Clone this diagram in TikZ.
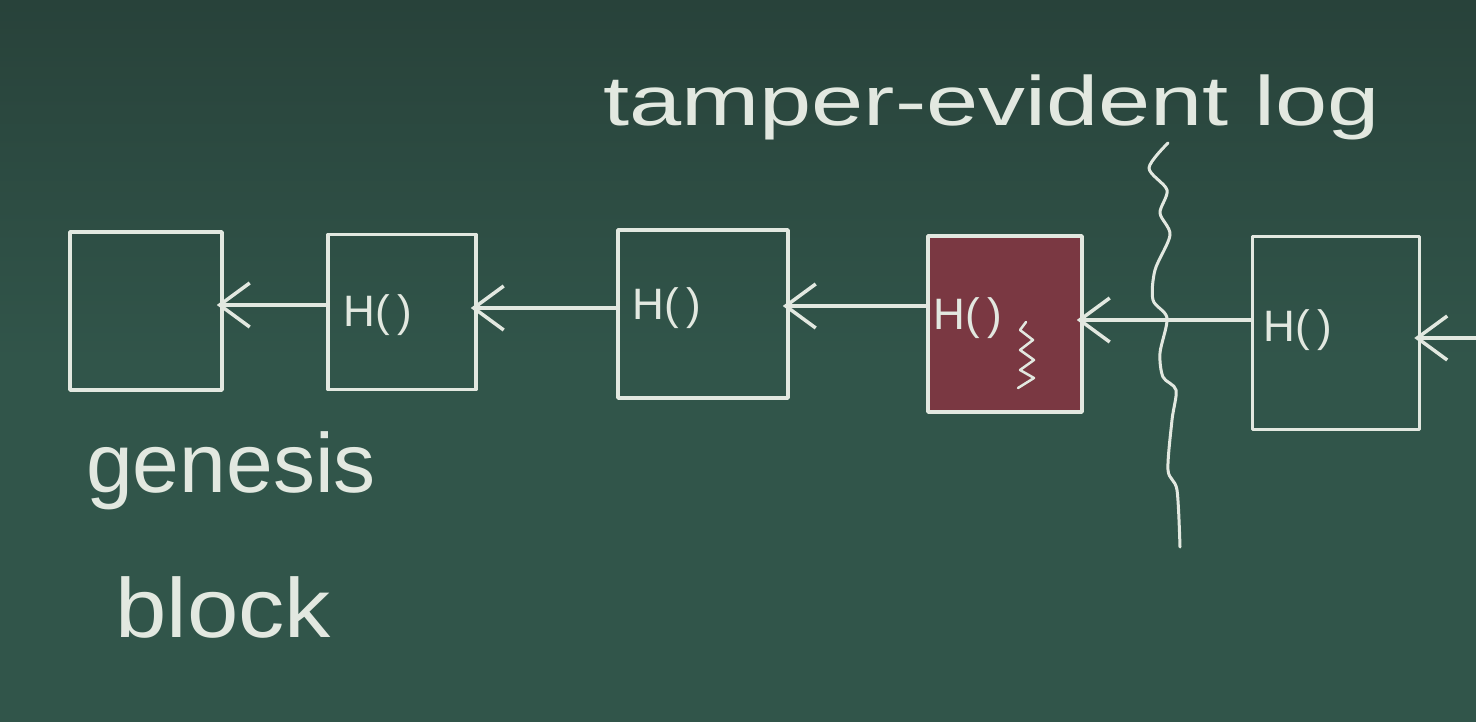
\documentclass[tikz,border=0pt]{standalone}
\usepackage{fontspec}
\setmainfont{Liberation Sans}
\usetikzlibrary{arrows.meta}
\definecolor{board}{RGB}{49,85,74}
\definecolor{boardtop}{RGB}{40,66,58}
\definecolor{chalkc}{RGB}{226,232,224}
\definecolor{maroon}{RGB}{122,56,66}
\tikzset{
  chalk/.style={draw=chalkc, line width=3.5pt, line cap=round, line join=round},
  blk/.style={chalk, rectangle, inner sep=0pt},
  link/.style={chalk, shorten >=-7pt, -{Straight Barb[length=30pt,width=44pt]}},
  hlabel/.style={text=chalkc, font=\fontsize{44}{44}\selectfont, inner sep=0pt},
  chalktext/.style={text=chalkc, inner sep=0pt}
}
\begin{document}
\begin{tikzpicture}[x=1pt,y=-1pt]
\useasboundingbox (0,0) rectangle (1476,721);
\shade[top color=boardtop, bottom color=board, middle color=board] (0,0) rectangle (1476,721);
% blocks
\node[blk, minimum width=152pt, minimum height=158pt] (b1) at (146,311) {};
\node[blk, minimum width=148pt, minimum height=155pt] (b2) at (402,312) {};
\node[blk, minimum width=170pt, minimum height=168pt] (b3) at (703,314) {};
\node[blk, fill=maroon, minimum width=154pt, minimum height=176pt] (b4) at (1005,324) {};
\node[blk, minimum width=167pt, minimum height=193pt] (b5) at (1336,333) {};
% hash labels
\node[hlabel] (h2) at (378,315) {H(\,)};
\node[hlabel] (h3) at (667,308) {H(\,)};
\node[hlabel] (h4) at (968,318) {H(\,)};
\node[hlabel] (h5) at (1298,330) {H(\,)};
% links
\draw[link] ([yshift=7pt]b2.west) -- ([yshift=6pt]b1.east);
\draw[link] ([yshift=6pt]b3.west) -- ([yshift=4pt]b2.east);
\draw[link] ([yshift=18pt]b4.west) -- ([yshift=8pt]b3.east);
\draw[link] ([yshift=13pt]b5.west) -- ([yshift=4pt]b4.east);
\coordinate (next) at (1480,338);
\draw[link] (next) -- ([yshift=-5pt]b5.east);
% squiggle inside tampered block
\draw[chalk, line width=2.5pt] (1026,322) -- (1020,330) -- (1033,340) -- (1020,350) -- (1034,360) -- (1020,370) -- (1034,378) -- (1018,388);
% cut line
\draw[chalk, line width=3pt] plot[smooth] coordinates {(1168,143) (1149,168) (1167,190) (1160,213) (1170,235) (1155,270) (1153,300) (1167,318) (1160,353) (1163,377) (1176,390) (1172,420) (1168,470) (1177,490) (1180,547)};
% texts
\node[chalktext, anchor=base west, xscale=1.34, font=\fontsize{70}{70}\selectfont] (title) at (603,125) {tamper-evident log};
\node[chalktext, anchor=base west, font=\fontsize{84}{84}\selectfont] (gen) at (86,492) {genesis};
\node[chalktext, anchor=base west, xscale=1.1, font=\fontsize{84}{84}\selectfont] (blkword) at (115,637) {block};
\end{tikzpicture}
\end{document}
